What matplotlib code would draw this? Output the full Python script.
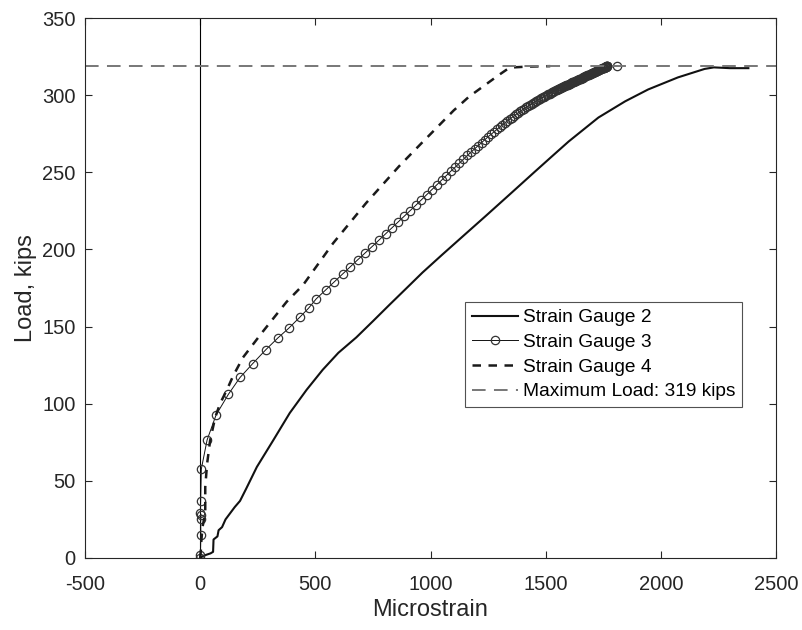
import matplotlib
matplotlib.use("Agg")
import matplotlib.pyplot as plt

plt.rcParams['font.family'] = ['Liberation Sans', 'DejaVu Sans']
plt.rcParams['axes.unicode_minus'] = False

# Strain Gauge 2
sg2_strain = [0, 10, 25, 45, 56, 58, 75, 80, 95, 110, 130, 150, 173, 200, 246, 316, 389, 462,
              532, 600, 678, 750, 821, 900, 965, 1050, 1150, 1239, 1350, 1450, 1527, 1600,
              1729, 1845, 1945, 2074, 2190, 2230, 2300, 2380]
sg2_load = [0, 1, 2, 3, 4, 12, 14, 18, 20, 25, 29, 33, 37, 45, 59, 76, 94, 109,
            122, 133, 143, 153.5, 164, 175.5, 185, 196.5, 209.8, 221.6, 236.5, 250, 260.3, 270,
            285.5, 296, 303.7, 311.5, 317, 318, 317.5, 317.5]

# Strain Gauge 3
sg3_strain = [0, 1, 3, 2, 4, 1, 2, 5, 30, 69, 122, 173, 228, 285, 337, 385, 432, 471,
              504, 547, 583, 619, 652, 684, 717, 746, 778, 807, 833, 860, 886, 912, 936,
              960, 983, 1005, 1027, 1048, 1068, 1088, 1107, 1125, 1143, 1160, 1176, 1192,
              1207, 1222, 1236, 1250, 1263, 1276, 1288, 1300, 1311, 1322, 1333, 1343,
              1353, 1363, 1372, 1381, 1390, 1399, 1407, 1415, 1423, 1431, 1439, 1446,
              1453, 1460, 1467, 1474, 1481, 1487, 1493, 1499, 1505, 1511, 1517, 1523,
              1528, 1533, 1538, 1543, 1548, 1553, 1558, 1563, 1568, 1572, 1576, 1580,
              1584, 1588, 1592, 1596, 1600, 1604, 1608, 1612, 1616, 1620, 1624, 1628,
              1632, 1636, 1640, 1644, 1648, 1652, 1656, 1660, 1664, 1668, 1672, 1676,
              1680, 1684, 1688, 1692, 1696, 1700, 1703, 1706, 1709, 1712, 1715, 1718,
              1721, 1724, 1727, 1730, 1733, 1736, 1739, 1742, 1745, 1748, 1750, 1752,
              1754, 1756, 1758, 1760, 1761, 1762, 1763, 1764, 1765, 1766, 1767, 1768,
              1810]
sg3_load = [0, 2, 15, 25, 28, 29, 37, 57.7, 76.5, 92.7, 106, 117, 126, 135, 142.6, 149, 156, 162,
            168.0, 174.0, 179.1, 184.2, 188.8, 193.3, 197.8, 201.8, 206.3, 210.3, 214.0,
            217.8, 221.4, 225.1, 228.6, 232.1, 235.4, 238.6, 241.8, 244.9, 247.8, 250.7,
            253.3, 255.9, 258.5, 260.9, 263.1, 265.3, 267.3, 269.3, 271.2, 273.0, 274.6,
            276.3, 277.8, 279.3, 280.6, 281.9, 283.2, 284.4, 285.5, 286.6, 287.6, 288.5,
            289.5, 290.5, 291.3, 292.0, 292.8, 293.6, 294.3, 295.0, 295.7, 296.3, 296.9,
            297.5, 298.1, 298.6, 299.1, 299.6, 300.1, 300.6, 301.0, 301.5, 301.9, 302.3,
            302.7, 303.1, 303.4, 303.8, 304.2, 304.5, 304.9, 305.2, 305.5, 305.8, 306.0,
            306.3, 306.6, 306.9, 307.2, 307.5, 307.7, 308.0, 308.3, 308.6, 308.8, 309.1,
            309.4, 309.6, 309.9, 310.2, 310.5, 310.7, 311.0, 311.3, 311.6, 311.9, 312.2,
            312.5, 312.8, 313.1, 313.3, 313.6, 313.9, 314.2, 314.4, 314.6, 314.8, 315.0,
            315.3, 315.5, 315.7, 315.9, 316.1, 316.3, 316.5, 316.7, 316.9, 317.1, 317.3,
            317.5, 317.6, 317.7, 317.8, 318.0, 318.1, 318.3, 318.4, 318.4, 318.5, 318.6,
            318.6, 318.7, 318.8, 318.8, 319.0]

# Strain Gauge 4
sg4_strain = [0, 3, 5, 10, 22, 22, 30, 43, 65, 86, 116, 143, 186, 268, 316, 375, 447, 577,
              720, 864, 965, 1008, 1100, 1167, 1250, 1296, 1340, 1360, 1420, 1520]
sg4_load = [0, 5, 11, 20, 29, 46, 61, 76, 91, 100, 109, 118, 130, 146, 155, 166, 177, 204,
            230, 254, 269.5, 276, 290, 299, 308, 313, 317.5, 318, 318.5, 318.8]

max_load = 319
x_ticks = [-500, 0, 500, 1000, 1500, 2000, 2500]
y_ticks = [0, 50, 100, 150, 200, 250, 300, 350]

fig = plt.figure(figsize=(8.02, 6.30), dpi=100)
ax = fig.add_axes([0.106, 0.1143, 0.8616, 0.8571])

ax.axvline(0, color='black', lw=0.8)
ax.plot(sg2_strain, sg2_load, color='#111111', lw=1.5, label='Strain Gauge 2')
ax.plot(sg3_strain, sg3_load, color='#111111', lw=0.7, marker='o', markersize=6,
        markerfacecolor='none', markeredgecolor='#333333', markeredgewidth=0.9,
        label='Strain Gauge 3')
ax.plot(sg4_strain, sg4_load, color='#1a1a1a', lw=1.8, ls=(0, (3.4, 3.0)),
        label='Strain Gauge 4')
ax.axhline(max_load, color='#777777', lw=1.4, ls=(0, (7, 4.3)),
           label='Maximum Load: %d kips' % max_load)

ax.set_xlim(-500, 2500)
ax.set_ylim(0, 350)
ax.set_xticks(x_ticks)
ax.set_yticks(y_ticks)
ax.tick_params(direction='in', top=True, right=True, labelsize=14.5,
               colors='#262626', length=5)
ax.tick_params(axis='x', pad=12)
ax.tick_params(axis='y', pad=6.8)
for s in ax.spines.values():
    s.set_color('#262626')
    s.set_linewidth(0.8)
ax.set_xlabel('Microstrain', fontsize=17, color='#262626')
ax.set_ylabel('Load, kips', fontsize=17, color='#262626')
ax.xaxis.set_label_coords(0.5, -0.076)
ax.yaxis.set_label_coords(-0.069, 0.5)

leg = ax.legend(loc='upper left', bbox_to_anchor=(0.55, 0.474), fontsize=13.8,
                frameon=True, fancybox=False, edgecolor='#262626', handlelength=2.4,
                handletextpad=0.26, borderpad=0.36, labelspacing=0.38, borderaxespad=0)
leg.get_frame().set_linewidth(0.8)

fig.savefig('out.png', dpi=100)
